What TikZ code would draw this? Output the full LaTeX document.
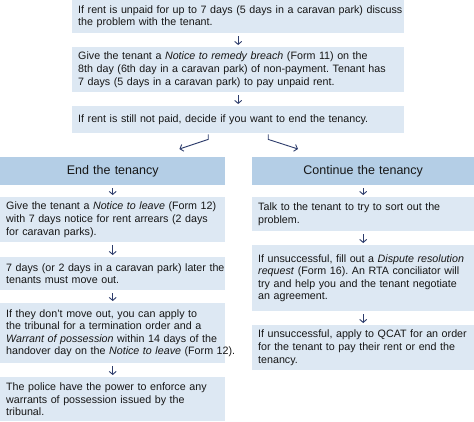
\documentclass[tikz,border=0pt]{standalone}
\usepackage{fontspec}
\setmainfont{Liberation Sans}
\frenchspacing
\usetikzlibrary{arrows.meta,calc}
\definecolor{boxlight}{HTML}{DDE8F3}
\definecolor{boxhead}{HTML}{B4CEE6}
\definecolor{arrowc}{HTML}{2E3D6C}
\definecolor{txt}{HTML}{161616}
\tikzset{
  box/.style={fill=boxlight, anchor=north west, inner xsep=6pt, inner ysep=0pt,
    align=left, text=txt, font=\fontsize{10.7}{12.6}\selectfont\frenchspacing},
  headbox/.style={fill=boxhead, anchor=north west, inner xsep=6pt, inner ysep=0pt,
    align=center, text=txt, font=\fontsize{12.5}{14}\selectfont},
  arr/.style={draw=arrowc, line width=0.9pt, -{Straight Barb[length=3pt,width=7pt]}}
}
\begin{document}
\begin{tikzpicture}[x=1pt,y=-1pt]
\useasboundingbox (0,0) rectangle (474,421);
% top column
\node[box, text width=320pt, minimum height=33pt] (b1) at (72,0)
  {\mbox{If rent is unpaid for up to 7 days (5 days in a caravan park) discuss}\\\mbox{the problem with the tenant.}};
\node[box, text width=320pt, minimum height=45pt] (b2) at (72,47)
  {\mbox{Give the tenant a \emph{Notice to remedy breach} (Form 11) on the}\\\mbox{8th day (6th day in a caravan park) of non-payment. Tenant has}\\\mbox{7 days (5 days in a caravan park) to pay unpaid rent.}};
\node[box, text width=320pt, minimum height=27pt] (b3) at (72,106)
  {\mbox{If rent is still not paid, decide if you want to end the tenancy.}};
% headers
\node[headbox, text width=213pt, minimum height=28pt] (hL) at (0,157) {End the tenancy};
\node[headbox, text width=210pt, minimum height=28pt] (hR) at (252,157) {Continue the tenancy};
% left column
\node[box, text width=213pt, minimum height=45pt] (L1) at (0,197)
  {\mbox{Give the tenant a \emph{Notice to leave} (Form 12)}\\\mbox{with 7 days notice for rent arrears (2 days}\\\mbox{for caravan parks).}};
\node[box, text width=213pt, minimum height=33pt] (L2) at (0,257)
  {\mbox{7 days (or 2 days in a caravan park) later the}\\\mbox{tenants must move out.}};
\node[box, text width=213pt, minimum height=60pt] (L3) at (0,303)
  {\mbox{If they don't move out, you can apply to}\\\mbox{the tribunal for a termination order and a}\\\mbox{\emph{Warrant of possession} within 14 days of the}\\\mbox{handover day on the \emph{Notice to leave} (Form 12).}};
\node[box, text width=213pt, minimum height=44pt] (L4) at (0,377)
  {\mbox{The police have the power to enforce any}\\\mbox{warrants of possession issued by the}\\\mbox{tribunal.}};
% right column
\node[box, text width=210pt, minimum height=34pt] (R1) at (252,197)
  {\mbox{Talk to the tenant to try to sort out the}\\\mbox{problem.}};
\node[box, text width=210pt, minimum height=66pt] (R2) at (252,245)
  {\mbox{If unsuccessful, fill out a \emph{Dispute resolution}}\\\mbox{\emph{request} (Form 16). An RTA conciliator will}\\\mbox{try and help you and the tenant negotiate}\\\mbox{an agreement.}};
\node[box, text width=210pt, minimum height=45pt] (R3) at (252,325)
  {\mbox{If unsuccessful, apply to QCAT for an order}\\\mbox{for the tenant to pay their rent or end the}\\\mbox{tenancy.}};
% arrows
\draw[arr] ([yshift=-3pt]b1.south) -- ([yshift=2pt]b2.north);
\draw[arr] ([yshift=-3pt]b2.south) -- ([yshift=2pt]b3.north);
\draw[arr] ($(b3.south)+(-30,1)$) -- ++(0,5) -- ($(hL.north east)+(-46,-8)$);
\draw[arr] ($(b3.south)+(30,1)$) -- ++(0,5) -- ($(hR.north west)+(46,-8)$);
\draw[arr] ([yshift=-3pt]hL.south) -- ([yshift=2pt]L1.north);
\draw[arr] ([yshift=-3pt]L1.south) -- ([yshift=2pt]L2.north);
\draw[arr] ([yshift=-3pt]L2.south) -- ([yshift=2pt]L3.north);
\draw[arr] ([yshift=-3pt]L3.south) -- ([yshift=2pt]L4.north);
\draw[arr] ([yshift=-3pt]hR.south) -- ([yshift=2pt]R1.north);
\draw[arr] ([yshift=-3pt]R1.south) -- ([yshift=2pt]R2.north);
\draw[arr] ([yshift=-3pt]R2.south) -- ([yshift=2pt]R3.north);
\end{tikzpicture}
\end{document}
